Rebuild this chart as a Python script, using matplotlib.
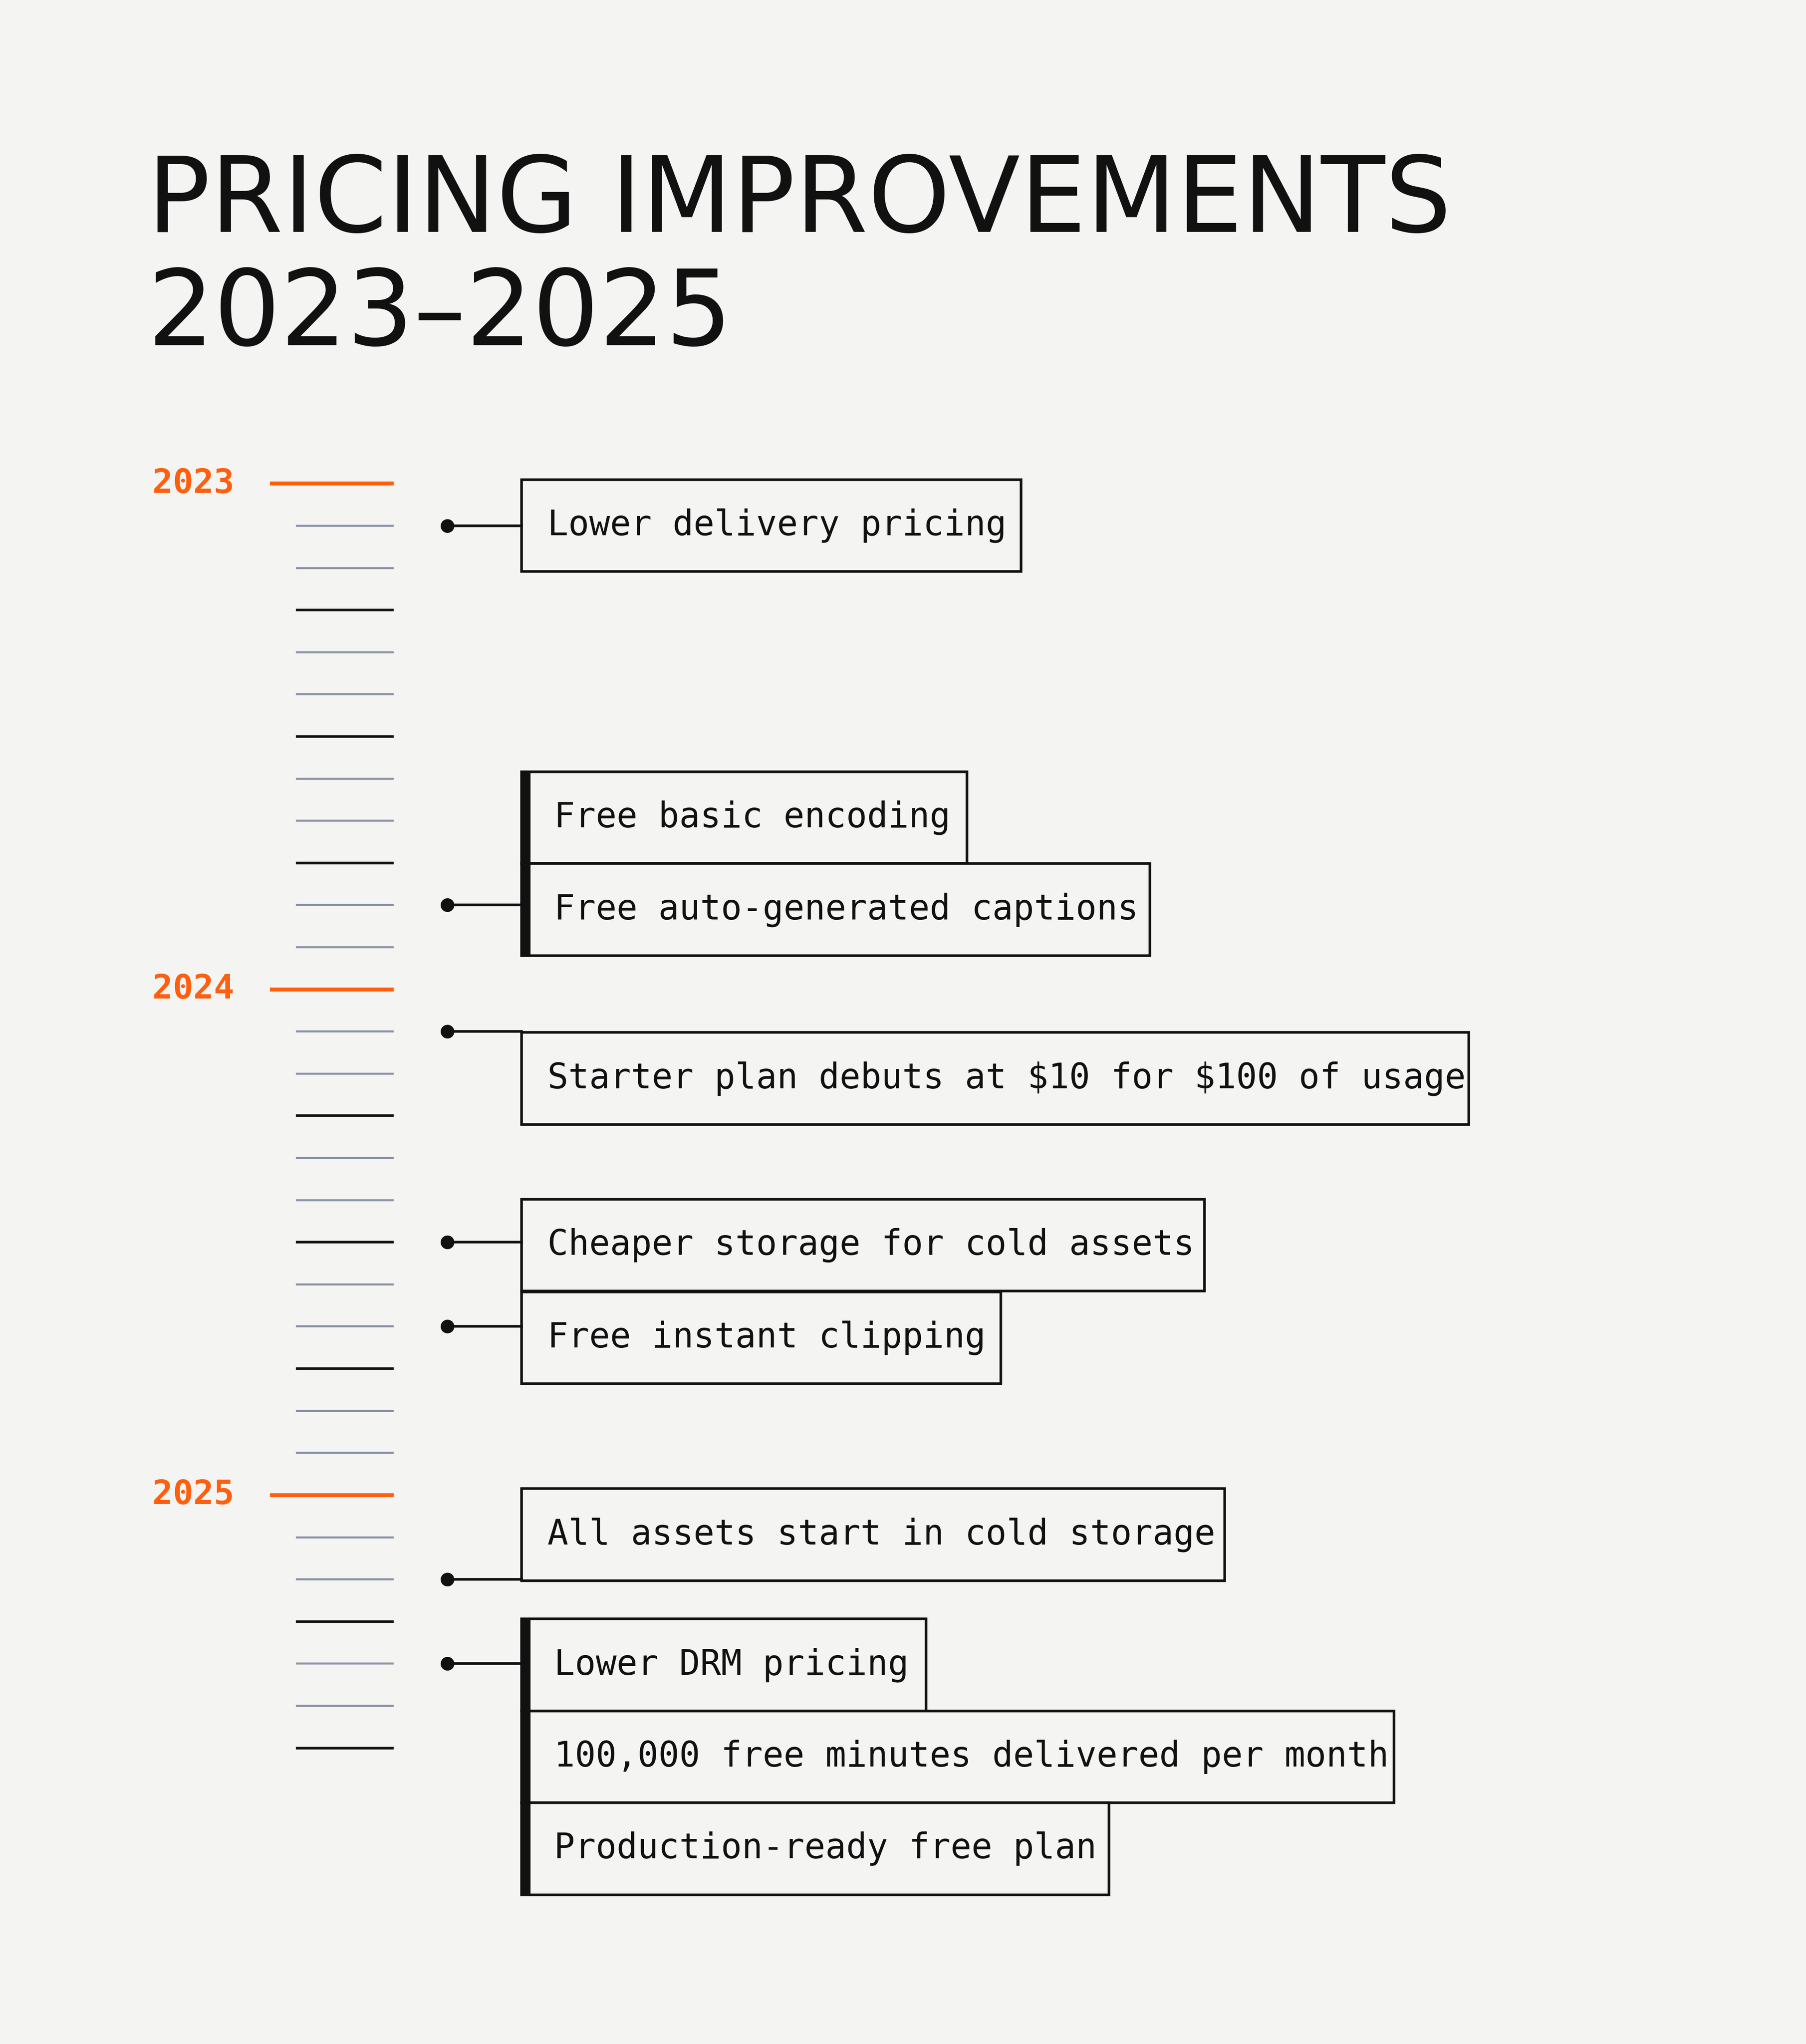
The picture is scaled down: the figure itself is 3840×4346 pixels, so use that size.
import matplotlib
matplotlib.use("Agg")
import matplotlib.pyplot as plt
from matplotlib.patches import Rectangle
plt.rcParams["text.parse_math"] = False

years = ["2023", "2024", "2025"]
n_months = 31  # month ticks from Jan 2023 through Jul 2025
event_months = [1, 10, 13, 18, 20, 26, 28]
event_labels = [
    ["Lower delivery pricing"],
    ["Free basic encoding", "Free auto-generated captions"],
    ["Starter plan debuts at $10 for $100 of usage"],
    ["Cheaper storage for cold assets"],
    ["Free instant clipping"],
    ["All assets start in cold storage"],
    ["Lower DRM pricing", "100,000 free minutes delivered per month", "Production-ready free plan"],
]
title_lines = ["PRICING IMPROVEMENTS", "2023\u20132025"]
box_tops = [368, 592, 792, 920, 991, 1142, 1242]

W, H = 1385, 1568
S = 3840 / W
PT = S * 0.72
fig = plt.figure(figsize=(38.4, 43.46), dpi=100)
fig.patch.set_facecolor("#F4F5F3")
ax = fig.add_axes([0, 0, 1, 1])
ax.set_xlim(0, W); ax.set_ylim(H, 0); ax.axis("off")

ORANGE = "#FF5F0F"
y0, step = 371, 32.33
def my(m): return y0 + m * step

for line, base in zip(title_lines, [178, 265]):
    ax.text(113, base, line, fontsize=96*2.0*0.835, family="DejaVu Sans",
            color="#111111", va="baseline")

for m in range(n_months):
    y = my(m)
    if m % 12 == 0:
        ax.plot([207, 302], [y, y], color=ORANGE, lw=3*PT, solid_capstyle="butt")
        ax.text(117, y, years[m // 12], color=ORANGE, fontsize=52, family="DejaVu Sans Mono",
                weight="bold", va="center")
    elif m % 3 == 0:
        ax.plot([227, 302], [y, y], color="#111111", lw=2*PT, solid_capstyle="butt")
    else:
        ax.plot([227, 302], [y, y], color="#8C93A3", lw=1.6*PT, solid_capstyle="butt")

CW = 15.6
BH = 70.5
for m, labels, top in zip(event_months, event_labels, box_tops):
    y = my(m)
    ax.plot([343, 400], [y, y], color="#111111", lw=2*PT)
    ax.plot(343, y, "o", color="#111111", ms=10*PT)
    grouped = len(labels) > 1
    for i, lab in enumerate(labels):
        t = top + i * BH
        x0 = 400
        tx = 425 if grouped else 420
        w = (tx - x0) + len(lab) * CW + 20
        ax.add_patch(Rectangle((x0, t), w, BH, fill=True, fc="#F4F5F3", ec="#111111", lw=2*PT))
        ax.text(tx, t + BH/2, lab, fontsize=53, family="DejaVu Sans Mono", color="#111111", va="center")
    if grouped:
        ax.add_patch(Rectangle((400, top), 7, BH*len(labels), fc="#111111", ec="none"))

fig.savefig("out.png", dpi=100, facecolor=fig.get_facecolor())
